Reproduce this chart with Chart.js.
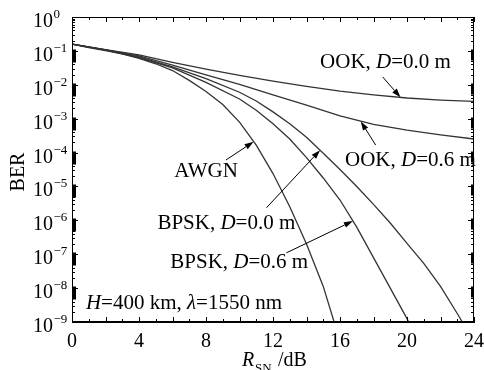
<!DOCTYPE html>
<html>
<head>
<meta charset="utf-8">
<script src="https://cdn.jsdelivr.net/npm/chart.js@4.4.1/dist/chart.umd.min.js"></script>
<style>
  body { margin: 0; background: #fff; }
  canvas { display: block; }
</style>
</head>
<body>
<canvas id="berChart" width="484" height="370"></canvas>
<script>
// values: SNR in dB, BER as log10 exponent
const snrOok0 = [0, 2, 4, 6, 8, 10, 12, 14, 16, 18, 20, 22, 24];
const berOok0 = [-0.8, -0.96, -1.12, -1.34, -1.54, -1.72, -1.89, -2.05, -2.19, -2.3, -2.39, -2.45, -2.49];

const snrOok6 = [0, 2, 4, 6, 8, 10, 12, 14, 16, 18, 20, 22, 24];
const berOok6 = [-0.8, -0.97, -1.15, -1.42, -1.71, -1.99, -2.3, -2.6, -2.92, -3.17, -3.34, -3.48, -3.6];

const snrBpsk0 = [0, 2, 4, 6, 8, 10, 11, 12, 13, 14, 15, 16, 17, 18, 19, 20, 21, 22, 23, 23.3];
const berBpsk0 = [-0.8, -0.97, -1.18, -1.47, -1.82, -2.22, -2.48, -2.8, -3.15, -3.55, -4.02, -4.5, -5.0, -5.53, -6.08, -6.68, -7.27, -7.95, -8.75, -9];

const snrBpsk6 = [0, 2, 4, 6, 8, 10, 11, 12, 13, 14, 15, 16, 17, 18, 19, 20, 20.1];
const berBpsk6 = [-0.8, -0.98, -1.2, -1.5, -1.93, -2.42, -2.75, -3.15, -3.6, -4.15, -4.75, -5.4, -6.2, -7.1, -8.0, -8.9, -9];

const snrAwgn = [0, 1, 2, 3, 4, 5, 6, 7, 8, 9, 10, 11, 12, 13, 14, 15, 15.65];
const berAwgn = [-0.8, -0.9, -0.99, -1.09, -1.22, -1.38, -1.58, -1.87, -2.2, -2.58, -3.1, -3.78, -4.62, -5.6, -6.7, -7.95, -9];

const xTicks = [0, 4, 8, 12, 16, 20, 24];
const yDecades = [0, -1, -2, -3, -4, -5, -6, -7, -8, -9];

const serif = "'Liberation Serif', 'DejaVu Serif', serif";
const lineColor = '#333';

function toPoints(xs, logs) {
  return xs.map((x, i) => ({ x: x, y: Math.pow(10, logs[i]) }));
}

// labels and arrows, placed in data units (x dB, y log10 BER)
const notes = [
  { parts: [['OOK, '], ['D', true], ['=0.0 m']], x: 14.81, y: -1.33, align: 'left' },
  { parts: [['OOK, '], ['D', true], ['=0.6 m']], x: 16.3, y: -4.22, align: 'left' },
  { parts: [['AWGN']], x: 6.1, y: -4.57, align: 'left' },
  { parts: [['BPSK, '], ['D', true], ['=0.0 m']], x: 13.33, y: -6.08, align: 'right' },
  { parts: [['BPSK, '], ['D', true], ['=0.6 m']], x: 14.1, y: -7.23, align: 'right' },
  { parts: [['H', true], ['=400 km, '], ['λ', true], ['=1550 nm']], x: 0.83, y: -8.44, align: 'left' }
];

const arrows = [
  { from: [18.55, -1.77], to: [19.61, -2.37] },
  { from: [18.13, -3.78], to: [17.24, -3.08] },
  { from: [9.19, -4.22], to: [10.84, -3.68] },
  { from: [11.61, -5.63], to: [14.81, -3.93] },
  { from: [12.8, -6.96], to: [16.77, -6.02] }
];

function drawRich(ctx, parts, x, y, align, size) {
  let total = 0;
  parts.forEach(p => {
    ctx.font = (p[1] ? 'italic ' : '') + size + 'px ' + serif;
    total += ctx.measureText(p[0]).width;
  });
  let cx = align === 'right' ? x - total : x;
  ctx.textAlign = 'left';
  ctx.textBaseline = 'middle';
  parts.forEach(p => {
    ctx.font = (p[1] ? 'italic ' : '') + size + 'px ' + serif;
    ctx.fillText(p[0], cx, y);
    cx += ctx.measureText(p[0]).width;
  });
}

const decorPlugin = {
  id: 'decor',
  afterDraw(chart) {
    const ctx = chart.ctx;
    const xs = chart.scales.x;
    const ys = chart.scales.y;
    const area = chart.chartArea;
    const px = v => xs.getPixelForValue(v);
    const py = l => ys.getPixelForValue(Math.pow(10, l));

    ctx.save();
    ctx.strokeStyle = '#000';
    ctx.fillStyle = '#000';
    ctx.lineWidth = 1;
    ctx.strokeRect(area.left + 0.5, area.top + 0.5, area.right - area.left - 1, area.bottom - area.top - 1);

    // x ticks, inside, bottom and top
    for (let v = 0; v <= 24; v++) {
      const len = v % 2 === 0 ? 5 : 3;
      const x = Math.round(px(v)) + 0.5;
      ctx.beginPath();
      ctx.moveTo(x, area.bottom);
      ctx.lineTo(x, area.bottom - len);
      ctx.moveTo(x, area.top);
      ctx.lineTo(x, area.top + len);
      ctx.stroke();
    }

    // y ticks, inside, left and right
    yDecades.forEach(d => {
      const y = Math.round(py(d)) + 0.5;
      ctx.beginPath();
      ctx.moveTo(area.left, y);
      ctx.lineTo(area.left + 6, y);
      ctx.moveTo(area.right, y);
      ctx.lineTo(area.right - 6, y);
      ctx.stroke();
      if (d < 0) {
        for (let m = 2; m <= 9; m++) {
          const ym = Math.round(py(d + Math.log10(m))) + 0.5;
          ctx.beginPath();
          ctx.moveTo(area.left, ym);
          ctx.lineTo(area.left + 3, ym);
          ctx.moveTo(area.right, ym);
          ctx.lineTo(area.right - 3, ym);
          ctx.stroke();
        }
        // heavy marks seen along both vertical axes
        if (d > -9) {
          ctx.fillRect(area.left, y - 2, 4, 13);
          ctx.fillRect(area.right - 3, y - 2, 3, 11);
        }
      }
    });

    // y tick labels with superscripts
    ctx.textBaseline = 'alphabetic';
    yDecades.forEach(d => {
      const y = py(d);
      ctx.font = '20px ' + serif;
      ctx.textAlign = 'right';
      ctx.fillText('10', 53, y + 10);
      ctx.font = '13px ' + serif;
      ctx.textAlign = 'left';
      ctx.fillText(d === 0 ? '0' : '\u2212' + (-d), 53.5, y + 1);
    });

    // axis titles
    ctx.save();
    ctx.translate(24, 172);
    ctx.rotate(-Math.PI / 2);
    ctx.font = '20px ' + serif;
    ctx.textAlign = 'center';
    ctx.textBaseline = 'alphabetic';
    ctx.fillText('BER', 0, 0);
    ctx.restore();

    ctx.textAlign = 'left';
    ctx.textBaseline = 'alphabetic';
    ctx.font = 'italic 20px ' + serif;
    ctx.fillText('R', 242, 366);
    ctx.font = '13px ' + serif;
    ctx.fillText('SN', 255, 372);
    ctx.font = '20px ' + serif;
    ctx.fillText('/dB', 278, 366);

    // annotations
    notes.forEach(n => drawRich(ctx, n.parts, px(n.x), py(n.y), n.align, 21));

    ctx.lineWidth = 1;
    arrows.forEach(a => {
      const x0 = px(a.from[0]), y0 = py(a.from[1]);
      const x1 = px(a.to[0]), y1 = py(a.to[1]);
      const ang = Math.atan2(y1 - y0, x1 - x0);
      const hl = 9, hw = 3;
      ctx.beginPath();
      ctx.moveTo(x0, y0);
      ctx.lineTo(x1 - hl * Math.cos(ang), y1 - hl * Math.sin(ang));
      ctx.stroke();
      ctx.beginPath();
      ctx.moveTo(x1, y1);
      ctx.lineTo(x1 - hl * Math.cos(ang) + hw * Math.sin(ang), y1 - hl * Math.sin(ang) - hw * Math.cos(ang));
      ctx.lineTo(x1 - hl * Math.cos(ang) - hw * Math.sin(ang), y1 - hl * Math.sin(ang) + hw * Math.cos(ang));
      ctx.closePath();
      ctx.fill();
    });
    ctx.restore();
  }
};

function series(xs, logs) {
  return {
    data: toPoints(xs, logs),
    borderColor: lineColor,
    borderWidth: 1.3,
    pointRadius: 0,
    tension: 0,
    fill: false
  };
}

new Chart(document.getElementById('berChart'), {
  type: 'line',
  data: {
    datasets: [
      series(snrOok0, berOok0),
      series(snrOok6, berOok6),
      series(snrBpsk0, berBpsk0),
      series(snrBpsk6, berBpsk6),
      series(snrAwgn, berAwgn)
    ]
  },
  options: {
    responsive: false,
    animation: false,
    layout: { padding: { top: 17, right: 7, left: 0, bottom: 0 } },
    plugins: { legend: { display: false }, tooltip: { enabled: false } },
    scales: {
      x: {
        type: 'linear',
        min: 0,
        max: 24,
        afterBuildTicks: s => { s.ticks = xTicks.map(v => ({ value: v })); },
        afterFit: s => { s.height = 48; },
        ticks: { color: '#000', font: { family: serif, size: 20 }, padding: 0, maxRotation: 0 },
        grid: { display: false },
        border: { display: true, color: '#000', width: 1 }
      },
      y: {
        type: 'logarithmic',
        min: 1e-9,
        max: 1,
        afterFit: s => { s.width = 72; },
        ticks: { display: false },
        grid: { display: false },
        border: { display: true, color: '#000', width: 1 }
      }
    }
  },
  plugins: [decorPlugin]
});
</script>
</body>
</html>
